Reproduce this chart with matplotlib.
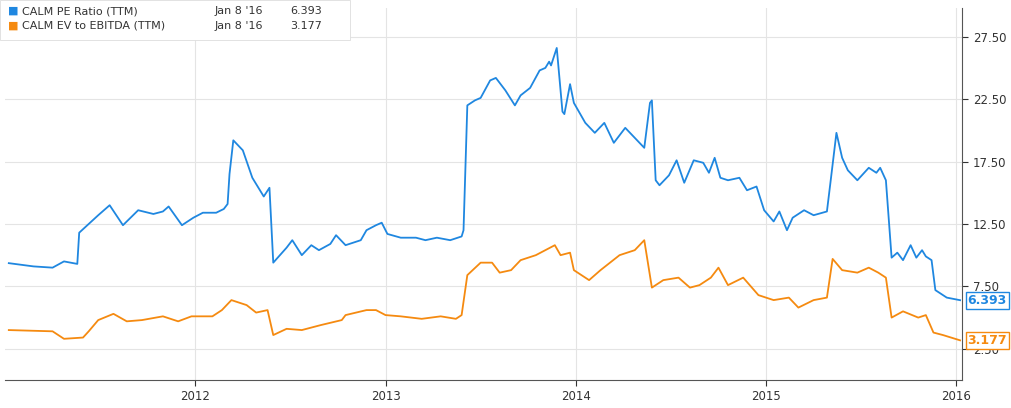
import matplotlib
matplotlib.use("Agg")
import matplotlib.pyplot as plt

pe_t = [2011.02,2011.15,2011.25,2011.31,2011.38,2011.39,2011.49,2011.55,2011.62,2011.70,2011.78,2011.83,2011.86,2011.93,2011.99,2012.04,2012.11,2012.15,2012.17,2012.18,2012.20,2012.25,2012.30,2012.34,2012.36,2012.39,2012.41,2012.48,2012.51,2012.56,2012.61,2012.65,2012.71,2012.74,2012.79,2012.87,2012.90,2012.95,2012.98,2013.01,2013.08,2013.16,2013.21,2013.27,2013.34,2013.40,2013.41,2013.43,2013.47,2013.50,2013.55,2013.58,2013.63,2013.68,2013.71,2013.76,2013.81,2013.84,2013.86,2013.87,2013.90,2013.93,2013.94,2013.97,2013.99,2014.05,2014.10,2014.15,2014.20,2014.26,2014.31,2014.36,2014.39,2014.40,2014.42,2014.44,2014.49,2014.53,2014.57,2014.62,2014.67,2014.70,2014.73,2014.76,2014.80,2014.86,2014.90,2014.95,2014.99,2015.04,2015.07,2015.11,2015.14,2015.20,2015.25,2015.32,2015.34,2015.37,2015.40,2015.43,2015.48,2015.54,2015.58,2015.60,2015.63,2015.66,2015.69,2015.72,2015.76,2015.79,2015.82,2015.84,2015.87,2015.89,2015.95,2016.02]
pe_v = [9.36,9.1,9.0,9.5,9.3,11.8,13.2,14.0,12.4,13.6,13.3,13.5,13.9,12.4,13.0,13.4,13.4,13.7,14.1,16.5,19.2,18.4,16.2,15.2,14.7,15.4,9.4,10.6,11.2,10.0,10.8,10.4,10.9,11.6,10.8,11.2,12.0,12.4,12.6,11.7,11.4,11.4,11.2,11.4,11.2,11.5,12.0,22.0,22.4,22.6,24.0,24.2,23.2,22.0,22.8,23.4,24.8,25.0,25.5,25.2,26.6,21.5,21.3,23.7,22.2,20.6,19.8,20.6,19.0,20.2,19.4,18.6,22.2,22.4,16.0,15.6,16.4,17.6,15.8,17.6,17.4,16.6,17.8,16.2,16.0,16.2,15.2,15.5,13.6,12.7,13.5,12.0,13.0,13.6,13.2,13.5,16.0,19.8,17.8,16.8,16.0,17.0,16.6,17.0,16.0,9.8,10.2,9.6,10.8,9.8,10.4,9.9,9.6,7.2,6.6,6.393]

ev_t = [2011.02,2011.25,2011.31,2011.41,2011.44,2011.49,2011.57,2011.64,2011.72,2011.83,2011.91,2011.98,2012.09,2012.14,2012.19,2012.27,2012.32,2012.38,2012.41,2012.48,2012.56,2012.66,2012.77,2012.79,2012.90,2012.95,2013.00,2013.08,2013.19,2013.29,2013.37,2013.40,2013.43,2013.50,2013.56,2013.60,2013.66,2013.71,2013.79,2013.84,2013.89,2013.92,2013.97,2013.99,2014.07,2014.13,2014.18,2014.23,2014.31,2014.36,2014.40,2014.46,2014.54,2014.60,2014.65,2014.71,2014.75,2014.80,2014.88,2014.96,2015.04,2015.12,2015.17,2015.25,2015.32,2015.35,2015.40,2015.48,2015.54,2015.59,2015.63,2015.66,2015.72,2015.80,2015.84,2015.88,2015.93,2016.02]
ev_v = [4.0,3.9,3.3,3.4,3.9,4.8,5.3,4.7,4.8,5.1,4.7,5.1,5.1,5.6,6.4,6.0,5.4,5.6,3.6,4.1,4.0,4.4,4.8,5.2,5.6,5.6,5.2,5.1,4.9,5.1,4.9,5.2,8.4,9.4,9.4,8.6,8.8,9.6,10.0,10.4,10.8,10.0,10.2,8.8,8.0,8.8,9.4,10.0,10.4,11.2,7.4,8.0,8.2,7.4,7.6,8.2,9.0,7.6,8.2,6.8,6.4,6.6,5.8,6.4,6.6,9.7,8.8,8.6,9.0,8.6,8.2,5.0,5.5,5.0,5.2,3.8,3.6,3.177]

yticks = [2.5, 7.5, 12.5, 17.5, 22.5, 27.5]
xticks = [2012, 2013, 2014, 2015, 2016]
blue, orange = "#1f87e0", "#f58a10"

fig = plt.figure(figsize=(10.12, 4.08), dpi=100)
ax = fig.add_axes([5/1012, 28/408, 957/1012, 372/408])
ax.plot(pe_t, pe_v, color=blue, lw=1.3)
ax.plot(ev_t, ev_v, color=orange, lw=1.3)
ax.set_xlim(2011.0, 2016.03)
ax.set_ylim(0, 29.8)
ax.yaxis.tick_right()
ax.set_yticks(yticks)
ax.set_yticklabels([f"{v:.2f}" for v in yticks])
ax.set_xticks(xticks)
ax.set_xticklabels([str(x) for x in xticks])
ax.grid(True, color="#e4e4e4", lw=0.8)
for s in ["top", "left"]:
    ax.spines[s].set_visible(False)
ax.spines["right"].set_color("#555555")
ax.spines["bottom"].set_color("#555555")
ax.tick_params(colors="#333333", labelsize=8.5, length=4)
ax.tick_params(axis="y", pad=4)

for v, c in [(pe_v[-1], blue), (ev_v[-1], orange)]:
    ax.annotate(f"{v:.3f}", xy=(1.0, v), xycoords=("axes fraction", "data"),
                xytext=(4, 0), textcoords="offset points", va="center", ha="left",
                color=c, fontsize=9, fontweight="bold",
                bbox=dict(boxstyle="square,pad=0.15", fc="white", ec=c, lw=1))

rows = [("CALM PE Ratio (TTM)", "Jan 8 '16", "6.393", blue),
        ("CALM EV to EBITDA (TTM)", "Jan 8 '16", "3.177", orange)]
fig.patches.append(plt.Rectangle((0, 368/408), 350/1012, 40/408, transform=fig.transFigure,
                                 fc="white", ec="#dddddd", lw=0.6, zorder=5))
for i, (name, d, val, c) in enumerate(rows):
    y = 1 - (11 + 15 * i) / 408
    fig.text(8/1012, y, "■", color=c, fontsize=8, va="center", zorder=6)
    fig.text(22/1012, y, name, fontsize=8, va="center", color="#333333", zorder=6)
    fig.text(215/1012, y, d, fontsize=8, va="center", color="#333333", zorder=6)
    fig.text(290/1012, y, val, fontsize=8, va="center", color="#333333", zorder=6)

fig.savefig("out.png", dpi=100)
